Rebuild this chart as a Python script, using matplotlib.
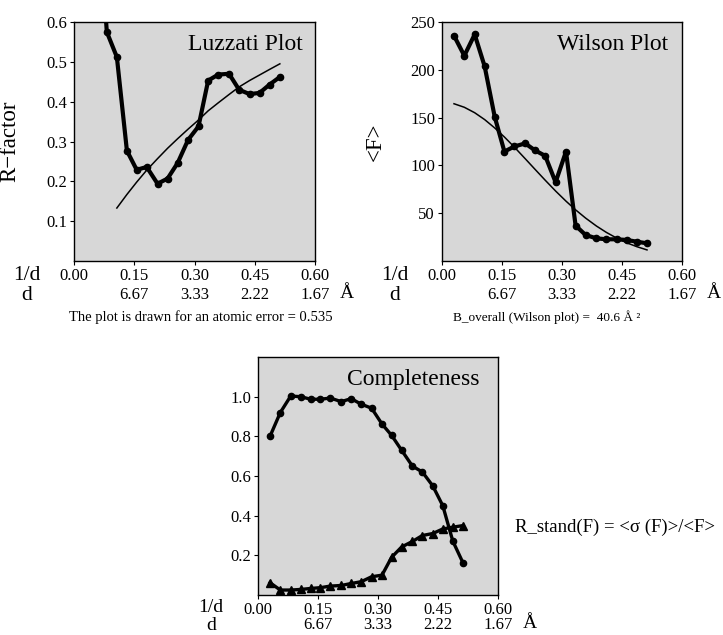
import numpy as np
import matplotlib
matplotlib.use("Agg")
import matplotlib.pyplot as plt

plt.rcParams['font.family'] = ['Liberation Serif', 'DejaVu Serif']

# ---- data ----
s_bins = [0.030, 0.0558, 0.0817, 0.1067, 0.1317, 0.156, 0.181, 0.208, 0.233, 0.258,
          0.284, 0.310, 0.334, 0.359, 0.386, 0.411, 0.437, 0.462, 0.487, 0.5125]

luzzati_r = [np.nan, 0.95, 0.575, 0.512, 0.277, 0.229, 0.236, 0.194, 0.207, 0.246,
             0.304, 0.338, 0.453, 0.468, 0.470, 0.430, 0.419, 0.422, 0.443, 0.462]
luzzati_fit_s = [0.1067, 0.1317, 0.156, 0.181, 0.208, 0.233, 0.258, 0.284, 0.310,
                 0.334, 0.359, 0.386, 0.411, 0.437, 0.462, 0.487, 0.5125]
luzzati_fit_r = [0.133, 0.167, 0.198, 0.228, 0.257, 0.283, 0.307, 0.331, 0.354,
                 0.377, 0.397, 0.418, 0.437, 0.453, 0.467, 0.481, 0.495]

wilson_f = [235.7, 214.7, 237.0, 203.5, 151.0, 114.5, 119.8, 123.0, 115.6, 110.0,
            82.4, 114.5, 37.0, 27.2, 23.7, 22.7, 22.7, 22.0, 20.2, 18.5]
wilson_fit = [164.5, 160.8, 155.1, 147.9, 139.2, 129.7, 119.1, 107.0, 95.7, 84.5,
              73.2, 62.6, 53.5, 44.9, 36.6, 29.9, 23.9, 19.0, 15.0, 11.6]

completeness = [0.80, 0.92, 1.003, 1.00, 0.987, 0.987, 0.993, 0.975, 0.99, 0.962,
                0.942, 0.862, 0.805, 0.73, 0.65, 0.62, 0.55, 0.45, 0.272, 0.162]
r_stand = [0.062, 0.025, 0.025, 0.028, 0.033, 0.037, 0.045, 0.048, 0.058, 0.067,
           0.092, 0.10, 0.19, 0.242, 0.27, 0.30, 0.31, 0.333, 0.342, 0.35]

x_ticks = [0.00, 0.15, 0.30, 0.45, 0.60]
x_tick_labels = ['0.00', '0.15', '0.30', '0.45', '0.60']
d_labels = ['', '6.67', '3.33', '2.22', '1.67']

BG = '#d7d7d7'
W, H = 723, 635

fig = plt.figure(figsize=(W / 100, H / 100), dpi=100)


def px_axes(l, t, r, b):
    return fig.add_axes([l / W, 1 - b / H, (r - l) / W, (b - t) / H])


def style(ax, ylim, yticks, ylabels, wpx, hpx, drow=34, row1=15, dfs=15.5):
    ax.set_facecolor(BG)
    ax.set_xlim(0, 0.6)
    ax.set_ylim(*ylim)
    ax.set_xticks(x_ticks)
    ax.set_xticklabels(x_tick_labels)
    ax.set_yticks(yticks)
    ax.set_yticklabels(ylabels)
    ax.tick_params(direction='out', length=3, width=0.8, pad=2.0, labelsize=12)
    for sp in ax.spines.values():
        sp.set_linewidth(1.0)
    trans = ax.get_xaxis_transform()
    for x, lab in zip(x_ticks, d_labels):
        if lab:
            ax.text(x, -drow / hpx, lab, transform=trans, ha='center', va='center',
                    fontsize=12)
    ax.text(0.68, -(drow - 1) / hpx, 'Å', transform=trans, ha='center', va='center',
            fontsize=14)
    ax.text(-47 / wpx, -row1 / hpx, '1/d', transform=ax.transAxes, ha='center',
            va='center', fontsize=dfs)
    ax.text(-47 / wpx, -(drow + 1) / hpx, 'd', transform=ax.transAxes, ha='center',
            va='center', fontsize=dfs)


# ---- Luzzati ----
ax1 = px_axes(74, 22, 315, 261)
style(ax1, (0, 0.6), [0.1, 0.2, 0.3, 0.4, 0.5, 0.6],
      ['0.1', '0.2', '0.3', '0.4', '0.5', '0.6'], 241, 239)
ax1.plot(luzzati_fit_s, luzzati_fit_r, color='black', lw=1.1, zorder=2)
ax1.plot(s_bins, luzzati_r, color='black', lw=3.0, marker='o', ms=4.5, zorder=3)
ax1.text(0.95, 0.904, 'Luzzati Plot', transform=ax1.transAxes, ha='right',
         va='center', fontsize=17)
ax1.set_ylabel('R\u2212factor', fontsize=16.5)
ax1.yaxis.set_label_coords(-54 / 241, 0.5)

# ---- Wilson ----
ax2 = px_axes(442, 22, 682, 261)
style(ax2, (0, 250), [50, 100, 150, 200, 250],
      ['50', '100', '150', '200', '250'], 240, 239)
ax2.plot(s_bins, wilson_fit, color='black', lw=1.1, zorder=2)
ax2.plot(s_bins, wilson_f, color='black', lw=3.0, marker='o', ms=4.5, zorder=3)
ax2.text(0.942, 0.904, 'Wilson Plot', transform=ax2.transAxes, ha='right',
         va='center', fontsize=17)
ax2.set_ylabel('<F>', fontsize=16.5)
ax2.yaxis.set_label_coords(-56 / 240, 0.5)

# ---- Completeness ----
ax3 = px_axes(258, 357, 498, 595)
style(ax3, (0, 1.2), [0.2, 0.4, 0.6, 0.8, 1.0],
      ['0.2', '0.4', '0.6', '0.8', '1.0'], 240, 238, drow=30, row1=12, dfs=14)
ax3.plot(s_bins, completeness, color='black', lw=2.4, marker='o', ms=4.5, zorder=3)
ax3.plot(s_bins, r_stand, color='black', lw=2.4, marker='^', ms=5.5, zorder=3)
ax3.text(0.925, 0.904, 'Completeness', transform=ax3.transAxes, ha='right',
         va='center', fontsize=17)

# ---- captions ----
fig.text(333 / W, 1 - 317 / H, 'The plot is drawn for an atomic error = 0.535',
         ha='right', va='center', fontsize=10.5)
fig.text(453 / W, 1 - 317 / H, 'B_overall (Wilson plot) =  40.6 Å \u00b2',
         ha='left', va='center', fontsize=9.5)
fig.text(515 / W, 1 - 527 / H, 'R_stand(F) = <\u03c3 (F)>/<F>',
         ha='left', va='center', fontsize=13.5)

fig.savefig('out.png', dpi=100)
